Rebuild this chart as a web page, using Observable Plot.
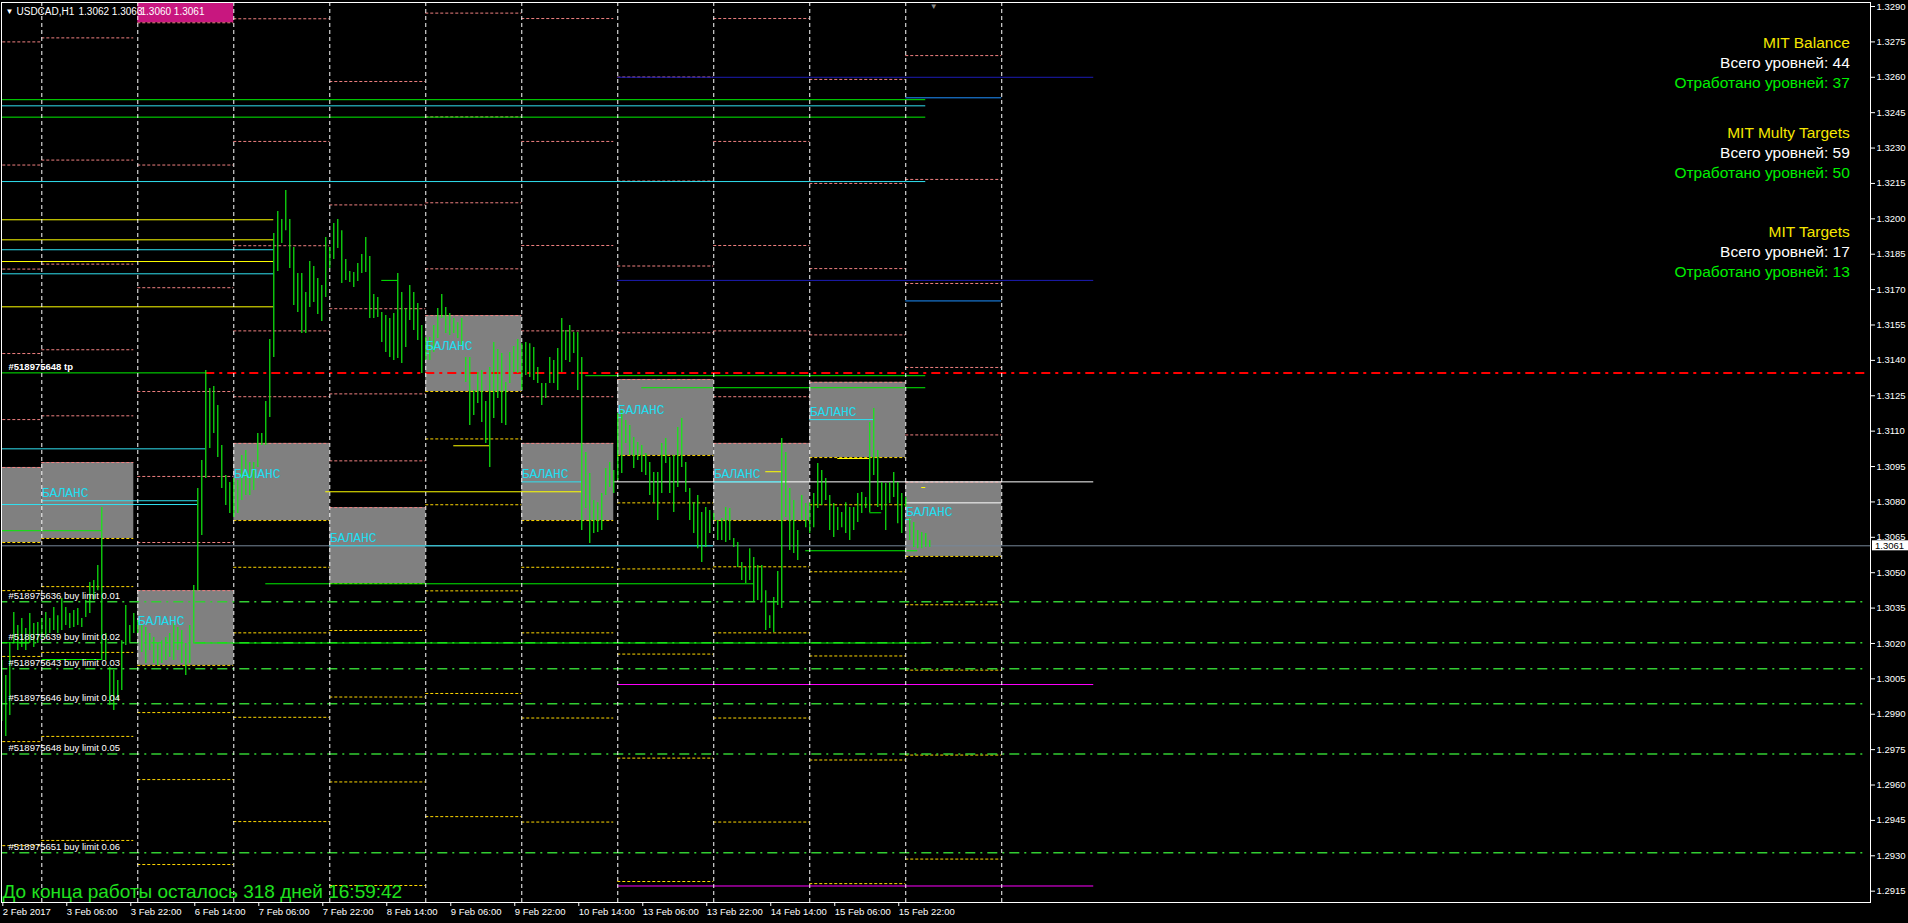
<!DOCTYPE html>
<html><head><meta charset="utf-8">
<script src="https://cdn.jsdelivr.net/npm/d3@7"></script>
<script src="https://cdn.jsdelivr.net/npm/@observablehq/plot@0.6"></script>
<style>
html,body{margin:0;padding:0;background:#000;overflow:hidden;}
#chart svg{display:block}
</style></head><body><div id="chart"></div>
<script>
// ---------- DATA ----------
const highs = [
1.30128,1.30064,1.30204,1.30331,1.30276,1.30306,1.30263,1.30327,1.30285,1.30289,
1.30306,1.30331,1.30306,1.30352,1.30318,1.30391,1.30352,1.30327,1.30340,1.30348,
1.30306,1.30382,1.30458,1.30467,1.30530,1.30776,1.30242,1.30098,1.30085,1.30043,
1.30212,1.30361,1.30276,1.30327,1.30297,1.30276,1.30268,1.30242,1.30225,1.30200,
1.30212,1.30225,1.30242,1.30285,1.30268,1.30255,1.30200,1.30276,1.30446,1.30857,
1.30976,1.31357,1.31281,1.31289,1.31209,1.31039,1.30912,1.30882,1.30899,1.30891,
1.30997,1.31018,1.30967,1.30967,1.31090,1.31090,1.31226,1.31488,1.31938,1.32031,
1.31997,1.32120,1.31997,1.31878,1.31768,1.31768,1.31688,1.31819,1.31798,1.31747,
1.31717,1.31921,1.31878,1.31980,1.31997,1.31950,1.31828,1.31777,1.31772,1.31811,
1.31849,1.31921,1.31840,1.31679,1.31666,1.31603,1.31590,1.31577,1.31599,1.31768,
1.31688,1.31620,1.31717,1.31688,1.31641,1.31548,1.31497,1.31497,1.31548,1.31620,
1.31679,1.31624,1.31599,1.31577,1.31560,1.31577,1.31412,1.31412,1.31272,1.31349,
1.31357,1.31226,1.31370,1.31476,1.31446,1.31429,1.31306,1.31433,1.31459,1.31488,
1.31471,1.31476,1.31471,1.31455,1.31370,1.31302,1.31302,1.31412,1.31399,1.31450,
1.31577,1.31527,1.31548,1.31518,1.31518,1.31412,1.31009,1.30920,1.30806,1.30797,
1.30836,1.30942,1.30967,1.30933,1.31175,1.31187,1.31145,1.31124,1.31073,1.31052,
1.31039,1.31005,1.30967,1.30925,1.30925,1.31048,1.31069,1.30988,1.30997,1.31115,
1.31154,1.30967,1.30857,1.30797,1.30827,1.30755,1.30776,1.30764,1.30751,1.30721,
1.30730,1.30776,1.30772,1.30645,1.30628,1.30543,1.30522,1.30602,1.30564,1.30530,
1.30530,1.30424,1.30318,1.30395,1.30505,1.31069,1.31009,1.30857,1.30806,1.30679,
1.30827,1.30793,1.30797,1.30836,1.30963,1.30933,1.30899,1.30827,1.30793,1.30776,
1.30755,1.30797,1.30776,1.30776,1.30836,1.30840,1.30819,1.31137,1.31196,1.31018,
1.30882,1.30878,1.30882,1.30925,1.30882,1.30836,1.30819,1.30730,1.30713,1.30679,
1.30670,1.30666,1.30636];
const lows = [
1.29869,1.29806,1.29895,1.30200,1.30170,1.30183,1.30170,1.30200,1.30183,1.30200,
1.30212,1.30225,1.30242,1.30255,1.30242,1.30255,1.30276,1.30263,1.30268,1.30276,
1.30268,1.30310,1.30327,1.30382,1.30424,1.30128,1.30128,1.29937,1.29916,1.29958,
1.30001,1.30191,1.30204,1.30242,1.30242,1.30162,1.30115,1.30170,1.30115,1.30107,
1.30115,1.30128,1.30140,1.30128,1.30170,1.30115,1.30064,1.30115,1.30200,1.30424,
1.30658,1.30899,1.31026,1.31090,1.30988,1.30857,1.30785,1.30751,1.30734,1.30751,
1.30806,1.30827,1.30827,1.30848,1.30946,1.31039,1.31039,1.31158,1.31412,1.31777,
1.31895,1.31950,1.31789,1.31633,1.31603,1.31514,1.31514,1.31624,1.31645,1.31594,
1.31565,1.31666,1.31789,1.31828,1.31874,1.31726,1.31739,1.31730,1.31709,1.31734,
1.31768,1.31772,1.31577,1.31577,1.31582,1.31476,1.31433,1.31412,1.31399,1.31408,
1.31387,1.31455,1.31569,1.31527,1.31484,1.31344,1.31399,1.31399,1.31433,1.31493,
1.31577,1.31514,1.31505,1.31514,1.31493,1.31463,1.31306,1.31124,1.31166,1.31217,
1.31137,1.31048,1.30946,1.31154,1.31238,1.31132,1.31124,1.31302,1.31349,1.31344,
1.31272,1.31336,1.31327,1.31315,1.31302,1.31209,1.31238,1.31302,1.31302,1.31272,
1.31349,1.31399,1.31391,1.31429,1.31272,1.30679,1.30772,1.30624,1.30666,1.30670,
1.30679,1.30827,1.30861,1.30836,1.30891,1.30920,1.31048,1.30997,1.30942,1.30976,
1.30925,1.30912,1.30827,1.30797,1.30721,1.30836,1.30963,1.30836,1.30755,1.30861,
1.30946,1.30840,1.30721,1.30666,1.30602,1.30543,1.30607,1.30666,1.30721,1.30636,
1.30636,1.30628,1.30636,1.30607,1.30522,1.30467,1.30454,1.30467,1.30374,1.30382,
1.30374,1.30255,1.30263,1.30246,1.30361,1.30348,1.30734,1.30594,1.30581,1.30552,
1.30721,1.30691,1.30666,1.30691,1.30772,1.30785,1.30806,1.30679,1.30649,1.30679,
1.30691,1.30666,1.30636,1.30679,1.30713,1.30751,1.30772,1.30755,1.30912,1.30776,
1.30764,1.30679,1.30793,1.30819,1.30708,1.30666,1.30776,1.30636,1.30607,1.30602,
1.30602,1.30607,1.30607];

// bar index of each day separator
const separators = [10,34,58,82,106,130,154,178,202,226,250];
const xTickBars = [0,16,32,48,64,80,96,112,128,144,160,176,192,208,224];
const xTickLabels = ["2 Feb 2017","3 Feb 06:00","3 Feb 22:00","6 Feb 14:00","7 Feb 06:00","7 Feb 22:00","8 Feb 14:00","9 Feb 06:00","9 Feb 22:00","10 Feb 14:00","13 Feb 06:00","13 Feb 22:00","14 Feb 14:00","15 Feb 06:00","15 Feb 22:00"];
const yTicks = [1.2915,1.2930,1.2945,1.2960,1.2975,1.2990,1.3005,1.3020,1.3035,1.3050,1.3065,1.3080,1.3095,1.3110,1.3125,1.3140,1.3155,1.3170,1.3185,1.3200,1.3215,1.3230,1.3245,1.3260,1.3275,1.3290];

// daily balance boxes
const boxFrom   = [-1,10,34,58,82,106,130,154,178,202,226];
const boxTo     = [10,33,58,82,106,130,153,178,202,226,250];
const boxTop    = [1.30946,1.30967,1.30424,1.31048,1.30776,1.31590,1.31048,1.31319,1.31048,1.31307,1.30884];
const boxBottom = [1.30628,1.30645,1.30107,1.30721,1.30454,1.31268,1.30721,1.30997,1.30721,1.30988,1.30569];
const boxLabel = "БАЛАНС";

// daily dashed levels above (salmon) and below (gold) the box
const upperDay = [
 [1.32750,1.32228,1.31787,1.31429,1.31149],
 [1.32767,1.32249,1.31808,1.31445,1.31165],
 [1.32831,1.32228,1.31708,1.31268,1.30908,1.30628],
 [1.32848,1.32328,1.31886,1.31525,1.31246],
 [1.32582,1.32059,1.31619,1.31258,1.30974],
 [1.32872,1.32432,1.32068,1.31788],
 [1.32849,1.32328,1.31887,1.31525,1.31246],
 [1.32601,1.32160,1.31800,1.31517],
 [1.32849,1.32328,1.31887,1.31525,1.31246],
 [1.32591,1.32150,1.31789,1.31508],
 [1.32692,1.32167,1.31726,1.31370,1.31084]];
const lowerDay = [
 [1.30424,1.30145,1.29784,1.29343],
 [1.30441,1.30162,1.29806,1.29365],
 [1.29907,1.29623,1.29263],
 [1.30523,1.30245,1.29887,1.29445],
 [1.30255,1.29973,1.29613,1.29174],
 [1.31067,1.30788,1.30423,1.29988,1.29466],
 [1.30523,1.30245,1.29884,1.29443],
 [1.30796,1.30516,1.30155,1.29714,1.29191],
 [1.30525,1.30245,1.29884,1.29443],
 [1.30788,1.30504,1.30147,1.29706,1.29182],
 [1.30364,1.30087,1.29727,1.29286]];

// magenta header box (day 2, above the chart)
const magentaBox = [{from:34, to:58, bottom:1.32831, top:1.3300}];

// solid levels: [price, fromBar, toBar]
const greenLevels = [[1.32505,-1,231],[1.32431,-1,231],[1.31347,-1,51],[1.30678,-1,25],[1.31335,146,231],[1.31284,160,231],[1.30593,201,229],[1.30453,66,188],[1.30202,48,231],[1.30203,-1,7],[1.30132,10,25],[1.31739,95,99],[1.30754,217,220]];
const cyanLevels = [[1.32479,-1,231],[1.32158,-1,231],[1.31869,-1,68],[1.31767,-1,68],[1.31025,-1,51],[1.30805,10,49],[1.30789,-1,49],[1.30614,82,178],[1.30885,130,145],[1.31158,154,155],[1.30885,178,195],[1.31149,202,218],[1.31430,106,107],[1.30725,226,227.4]];
const yellowLevels = [[1.31996,-1,68],[1.31911,-1,68],[1.31819,-1,68],[1.31627,-1,68],[1.30843,81,145],[1.30928,191,195],[1.30984,209,217],[1.30861,230,231],[1.31038,113,122]];
const whiteLevels = [[1.30885,153,273],[1.30796,226,250]];
const blueLevels = [[1.32513,226,250],[1.31652,226,250]];
const navyLevels = [[1.32600,154,273],[1.31739,154,273]];
const magentaLevels = [[1.30026,154,273],[1.29172,154,273]];
const bidPrice = 1.30614;
const tpLevel = [[1.31347,51,466.4]];
const buyLimitPrices = [1.30377,1.30203,1.30093,1.29944,1.29732,1.29313];
const buyLimitLabels = ["#518975636 buy limit 0.01","#518975639 buy limit 0.02","#518975643 buy limit 0.03","#518975646 buy limit 0.04","#518975648 buy limit 0.05","#518975651 buy limit 0.06"];
const tpLabel = "#518975648 tp";

const headerSymbol = "USDCAD,H1";
const headerQuotes1 = "1.3062 1.3063";
const headerQuotes2 = "1.3060 1.3061";
const panelTitles = ["MIT Balance","MIT Multy Targets","MIT Targets"];
const panelTotals = [44,59,17];
const panelDone = [37,50,13];
const footerText = "До конца работы осталось 318 дней 16:59:42";

// ---------- BUILD ----------
const FONT = "Liberation Sans, Arial, sans-serif";
const toSeg = a => a.map(([price, from, to]) => ({price, from, to}));
const bars = highs.map((h, i) => ({i, high: h, low: lows[i]}));
const boxes = boxFrom.map((f, k) => ({day: k, from: f, to: boxTo[k], top: boxTop[k], bottom: boxBottom[k]}));
const upperAll = boxes.flatMap(b => [b.top, ...upperDay[b.day]].map(price => ({price, from: b.from, to: b.to})));
const lowerAll = boxes.flatMap(b => [b.bottom, ...lowerDay[b.day]].map(price => ({price, from: b.from, to: b.to})));
const buyLimits = buyLimitPrices.map((p, k) => ({price: p, label: buyLimitLabels[k], from: -1, to: 466.4}));

const solid = (arr, color) => Plot.ruleY(toSeg(arr), {y: "price", x1: "from", x2: "to", stroke: color, strokeWidth: 1, clip: true});

const panelBase = [40.7, 130.7, 230];
const panelMarks = [];
panelTitles.forEach((t, k) => {
  const rows = [[t, "#F5E600"], ["Всего уровней: " + panelTotals[k], "#FFFFFF"], ["Отработано уровней: " + panelDone[k], "#00F000"]];
  rows.forEach(([txt, col], r) => {
    panelMarks.push(Plot.text([txt], {frameAnchor: "top-right", dx: -20.7, dy: panelBase[k] + r * 19.8, text: d => d, textAnchor: "end", lineAnchor: "middle", fill: col, fontSize: 15.5, fontFamily: FONT}));
  });
});

const bidLabelMark = (index, scales, values, dimensions) => {
  const y = scales.y(bidPrice);
  const x = dimensions.width - dimensions.marginRight;
  const g = d3.create("svg:g");
  g.append("rect").attr("x", x + 2).attr("y", y - 5).attr("width", 40).attr("height", 10).attr("fill", "#fff");
  g.append("text").attr("x", x + 5).attr("y", y).attr("dy", "0.35em").attr("fill", "#000").attr("text-anchor", "start")
    .attr("font-family", FONT).attr("font-size", 9.5).text(d3.format(".4f")(bidPrice));
  return g.node();
};

const plot = Plot.plot({
  width: 1908, height: 923,
  marginLeft: 1, marginRight: 38, marginTop: 2, marginBottom: 21,
  x: {domain: [-0.075, 467.2]},
  y: {domain: [1.29102, 1.32917]},
  style: {background: "#000", color: "#fff", fontFamily: FONT, fontSize: "9.5px", overflow: "visible"},
  marks: [
    Plot.rect(boxes, {x1: "from", x2: "to", y1: "bottom", y2: "top", fill: "#808080", clip: true}),
    Plot.rect(magentaBox, {x1: "from", x2: "to", y1: "bottom", y2: "top", fill: "#C8177F", clip: true}),
    Plot.ruleY(upperAll, {y: "price", x1: "from", x2: "to", stroke: "#F08080", strokeDasharray: "3,2", clip: true}),
    Plot.ruleY(lowerAll, {y: "price", x1: "from", x2: "to", stroke: "#FFD700", strokeDasharray: "3,2", clip: true}),
    Plot.ruleY([bidPrice], {x1: -1, x2: 467.2, stroke: "#778899", clip: true}),
    Plot.ruleY(buyLimits, {y: "price", x1: "from", x2: "to", stroke: "#32CD32", strokeWidth: 1.5, strokeDasharray: "10,5,2,5", clip: true}),
    Plot.ruleY(toSeg(tpLevel), {y: "price", x1: "from", x2: "to", stroke: "#FF0000", strokeWidth: 2, strokeDasharray: "9,5,3,5", clip: true}),
    solid(navyLevels, "#1C1CB4"),
    solid(blueLevels, "#1E90FF"),
    solid(magentaLevels, "#FF00FF"),
    solid(yellowLevels, "#FFFF00"),
    solid(whiteLevels, "#FFFFFF"),
    solid(cyanLevels, "#30E0F0"),
    solid(greenLevels, "#00F000"),
    Plot.ruleX(separators, {x: d => d, stroke: "#FFFFFF", strokeDasharray: "4,3"}),
    Plot.ruleX(bars, {x: "i", y1: "low", y2: "high", stroke: "#10EE10", strokeWidth: 1.2}),
    Plot.text(boxes.filter(b => b.from >= 0), {x: "from", y: "top", text: () => boxLabel, dy: 30, textAnchor: "start", lineAnchor: "middle", fill: "#22DDF0", fontFamily: "Liberation Mono, monospace", fontSize: 13}),
    Plot.text(buyLimits, {y: "price", text: "label", frameAnchor: "left", dx: 7, dy: -6, textAnchor: "start", lineAnchor: "middle", fill: "#FFFFFF", fontSize: 9.5}),
    Plot.text(toSeg(tpLevel), {y: "price", text: () => tpLabel, frameAnchor: "left", dx: 7, dy: -6, textAnchor: "start", lineAnchor: "middle", fill: "#FFFFFF", fontSize: 9.5, fontWeight: "bold"}),
    Plot.text(["▼"], {frameAnchor: "top-left", dx: 4, dy: 9, text: d => d, textAnchor: "start", lineAnchor: "middle", fill: "#fff", fontSize: 8}),
    Plot.text([headerSymbol], {frameAnchor: "top-left", dx: 15, dy: 9, text: d => d, textAnchor: "start", lineAnchor: "middle", fill: "#fff", fontSize: 10}),
    Plot.text([headerQuotes1], {frameAnchor: "top-left", dx: 77, dy: 9, text: d => d, textAnchor: "start", lineAnchor: "middle", fill: "#fff", fontSize: 10}),
    Plot.text([headerQuotes2], {frameAnchor: "top-left", dx: 139, dy: 9, text: d => d, textAnchor: "start", lineAnchor: "middle", fill: "#fff", fontSize: 10}),
    Plot.text([233], {x: d => d, frameAnchor: "top", text: () => "▼", dy: 4, fill: "#8a8a8a", fontSize: 8, lineAnchor: "middle"}),
    ...panelMarks,
    Plot.text([footerText], {frameAnchor: "bottom-left", dx: 1, dy: -11, text: d => d, textAnchor: "start", lineAnchor: "middle", fill: "#1FE01F", fontSize: 19}),
    Plot.axisY(yTicks, {anchor: "right", tickSize: 4, tickPadding: 2, tickFormat: d3.format(".4f"), fontSize: 9.5}),
    Plot.axisX(xTickBars, {anchor: "bottom", tickSize: 4, tickPadding: 2, tickFormat: d => xTickLabels[xTickBars.indexOf(d)], textAnchor: "start", dx: 1, fontSize: 9.5}),
    Plot.frame({stroke: "#fff"}),
    bidLabelMark
  ]
});
document.getElementById("chart").appendChild(plot);
</script>
</body></html>
